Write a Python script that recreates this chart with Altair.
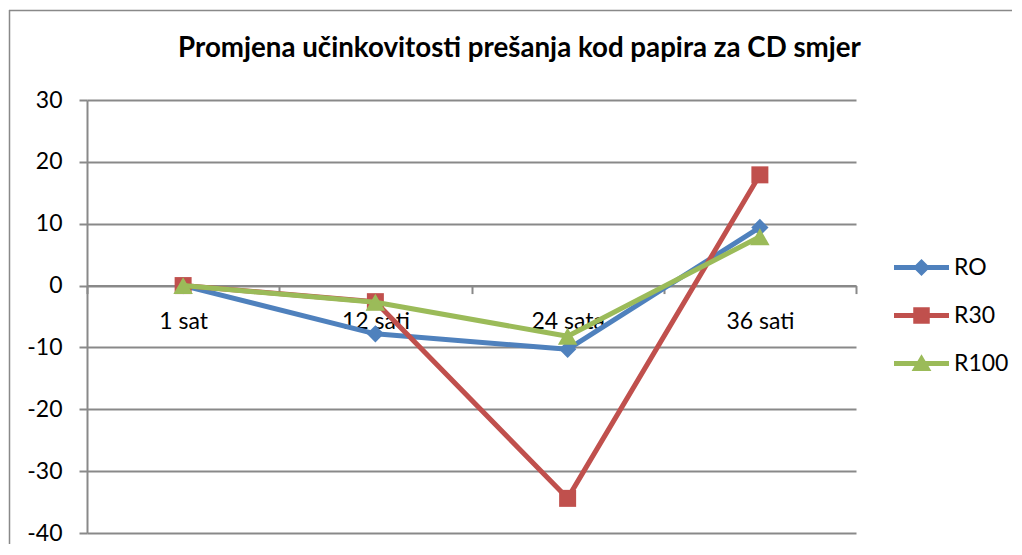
import json
import altair as alt
import pandas as pd

# ---- data ----
categories = ["1 sat", "12 sati", "24 sata", "36 sati"]
series_names = ["RO", "R30", "R100"]
ro_values = [0, -7.8, -10.3, 9.4]
r30_values = [0, -2.6, -34.4, 17.9]
r100_values = [0, -2.7, -8.2, 7.9]
y_ticks = [-40, -30, -20, -10, 0, 10, 20, 30]
title_text = "Promjena učinkovitosti prešanja kod papira za CD smjer"

# ---- styles ----
colors = ["#4F81BD", "#C0504D", "#9BBB59"]
shapes = ["diamond", "square", "triangle-up"]
marker_sizes = [300, 289, 380]
legend_paths = [
    "M0,-0.31L0.31,0L0,0.31L-0.31,0Z M-1,-0.09H1V0.09H-1Z",
    "M-0.3,-0.3H0.3V0.3H-0.3Z M-1,-0.09H1V0.09H-1Z",
    "M0,-0.34L0.36,0.27H-0.36Z M-1,-0.09H1V0.09H-1Z",
]
GRAY = "#898989"
FONT = "Lato"
FS = 23
W, H = 769, 433

rows = []
for name, vals in zip(series_names, [ro_values, r30_values, r100_values]):
    for i, (c, v) in enumerate(zip(categories, vals)):
        rows.append({"series": name, "category": c, "pos": i + 0.5, "value": v})
df = pd.DataFrame(rows)

x_scale = alt.Scale(domain=[0, len(categories)], nice=False, zero=False)
y_scale = alt.Scale(domain=[min(y_ticks), max(y_ticks)], nice=False)

label_expr = ("datum.value % 1 == 0.5 ? " + json.dumps(categories, ensure_ascii=False)
              + "[floor(datum.value)] : ''")
zero_offset = -H * (0 - min(y_ticks)) / (max(y_ticks) - min(y_ticks))

x_axis = alt.Axis(
    values=[k / 2 for k in range(2 * len(categories) + 1)],
    labelExpr=label_expr, title=None, grid=False, offset=zero_offset,
    domainColor=GRAY, domainWidth=2, tickColor=GRAY, tickWidth=2, tickSize=8,
    tickOpacity={"condition": {"test": "datum.value % 1 == 0", "value": 1}, "value": 0},
    labelFont=FONT, labelFontSize=FS, labelColor="black", labelPadding=17,
    labelOverlap=False, labelFlush=False,
)
y_axis = alt.Axis(
    values=y_ticks, title=None, grid=True, gridColor=GRAY, gridWidth=2,
    domainColor=GRAY, domainWidth=2, tickColor=GRAY, tickWidth=2, tickSize=8,
    labelExpr="'' + datum.value",
    labelFont=FONT, labelFontSize=FS, labelColor="black", labelPadding=17,
)

base = alt.Chart(df)
X = alt.X("pos:Q", scale=x_scale, axis=x_axis)
Y = alt.Y("value:Q", scale=y_scale, axis=y_axis)

layers = []
for name, color, shape, size in zip(series_names, colors, shapes, marker_sizes):
    sub = base.transform_filter(alt.datum.series == name)
    layers.append(sub.mark_line(color=color, strokeWidth=5, strokeJoin="round",
                                strokeCap="round").encode(x=X, y=Y))
    layers.append(sub.mark_point(filled=True, color=color, shape=shape, size=size,
                                 opacity=1, strokeWidth=0).encode(x=X, y=Y))

leg = alt.Legend(
    title=None, orient="none", legendX=807, legendY=140, direction="vertical",
    labelFont=FONT, labelFontSize=FS, labelColor="black", labelOffset=5,
    symbolSize=3025, symbolStrokeWidth=0, symbolOpacity=1, rowPadding=8,
)
legend_layer = base.mark_point(filled=True, opacity=0).encode(
    x=X, y=Y,
    color=alt.Color("series:N", scale=alt.Scale(domain=series_names, range=colors), legend=leg),
    shape=alt.Shape("series:N", scale=alt.Scale(domain=series_names, range=legend_paths), legend=leg),
)

frame_data = alt.Data(values=[{"f": 1}])
top_rule = alt.Chart(frame_data).mark_rule(color=GRAY, strokeWidth=1.5).encode(
    x=alt.value(-78), x2=alt.value(925), y=alt.value(-89.5))
left_rule = alt.Chart(frame_data).mark_rule(color=GRAY, strokeWidth=1.5).encode(
    x=alt.value(-77.5), y=alt.value(-90), y2=alt.value(444))

chart = alt.layer(top_rule, left_rule, *layers, legend_layer).properties(
    width=W, height=H,
    padding={"left": 0, "top": 1, "right": 0, "bottom": 0},
    title=alt.TitleParams(title_text, font=FONT, fontSize=27.7, fontWeight="bold",
                          color="black", anchor="middle", frame="group", dx=48, offset=-53),
    background="white",
).configure_view(strokeWidth=0)

chart.save("out.html", embed_options={"renderer": "svg", "actions": False})
